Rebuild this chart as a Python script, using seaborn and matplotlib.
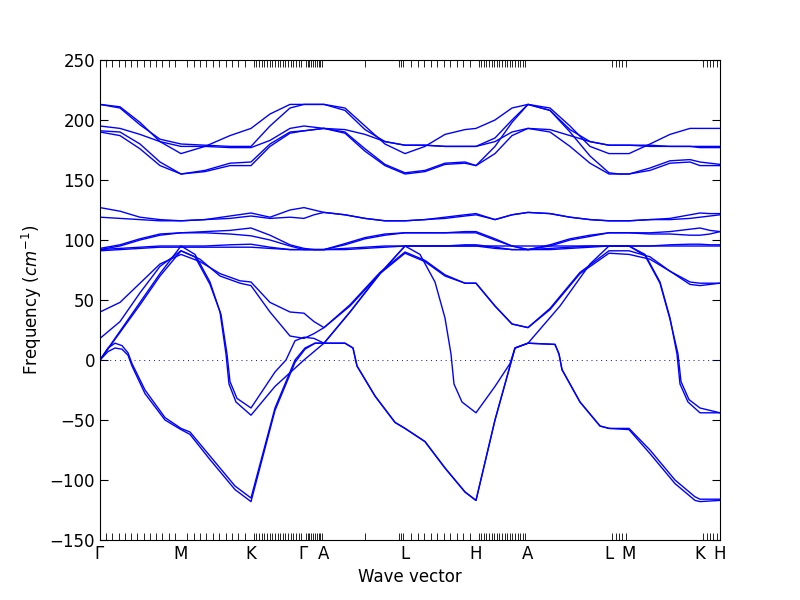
"""Phonon band structure along Γ-M-K-Γ-A-L-H-A|L-M|K-H."""
import matplotlib
matplotlib.use("Agg")
import matplotlib.pyplot as plt
import seaborn as sns
import numpy as np
import pandas as pd

# high-symmetry points (path distance) and labels
sym_pos = [0, 81, 151, 204, 224, 305, 376, 428, 509, 529, 600, 620]
sym_lab = [r"$\Gamma$", "M", "K", r"$\Gamma$", "A", "L", "H", "A", "L", "M", "K", "H"]

# common q grid for the optical bands
q = [0, 20, 40, 60, 81, 105, 130, 151, 170, 190, 204, 214, 224, 245, 265, 285, 305, 325,
     345, 365, 376, 395, 412, 428, 450, 470, 490, 509, 519, 529, 550, 570, 590, 600, 610, 620]

# upper optical group
top1 = [213, 211, 198, 182, 172, 178, 187, 193, 205, 213, 213, 213, 213, 210, 195, 180, 172, 178,
        188, 192, 193, 200, 210, 213, 210, 195, 178, 172, 172, 172, 180, 188, 193, 193, 193, 193]
top2 = [213, 210, 196, 184, 180, 179, 178, 178, 195, 210, 213, 213, 213, 208, 192, 182, 179, 179,
        178, 178, 178, 185, 200, 213, 208, 192, 182, 179, 179, 179, 179, 178, 178, 178, 178, 178]
top3 = [195, 193, 188, 182, 178, 178, 177, 177, 183, 193, 195, 194, 193, 192, 188, 182, 179, 179,
        178, 178, 178, 182, 190, 193, 192, 187, 182, 179, 179, 179, 178, 178, 178, 177, 177, 177]
top4 = [191, 190, 180, 165, 155, 158, 164, 165, 180, 190, 191, 192, 193, 190, 176, 163, 156, 158,
        164, 165, 162, 178, 198, 213, 208, 190, 170, 156, 155, 155, 160, 166, 167, 165, 164, 163]
top5 = [190, 187, 176, 162, 155, 157, 162, 162, 178, 189, 191, 192, 193, 189, 174, 162, 155, 157,
        163, 164, 162, 172, 187, 193, 190, 178, 164, 155, 155, 155, 158, 164, 165, 162, 162, 162]

# middle optical group
mid1 = [127, 124, 119, 117, 116, 117, 120, 122.5, 119, 125, 127, 125, 123, 121, 118, 116, 116, 117,
        119, 121, 122, 117, 121, 123, 122, 119, 117, 116, 116, 116, 117, 118, 121, 122.5, 122, 122]
mid2 = [119, 118, 117, 116, 116, 117, 118, 120, 118, 119, 118, 121, 123, 121, 118, 116, 116, 117,
        118, 120, 121, 117, 121, 123, 122, 119, 117, 116, 116, 116, 117, 117, 118, 119, 120, 121]
mid3 = [93, 96, 101, 105, 106, 107, 108, 110, 104, 96, 93, 92, 92, 97, 102, 105, 106, 106,
        106, 107, 107, 101, 95, 92, 96, 101, 104, 106, 106, 106, 106, 107, 109, 110, 108, 107]
mid4 = [92, 95, 100, 104, 106, 106, 105, 103.5, 100, 95, 92, 92, 92, 96, 101, 104, 106, 106,
        106, 106, 106, 100, 95, 92, 95, 100, 103, 106, 106, 106, 105, 105, 104, 104, 105, 107]
mid5 = [92, 93, 94, 95, 95, 95, 96, 96.5, 94, 92, 92, 92, 92, 93, 94, 95, 95, 95,
        95, 96, 96, 94, 92, 92, 93, 94, 95, 95, 95, 95, 95, 96, 96.5, 96.5, 96, 96]
mid6 = [91, 92, 93, 94, 94, 94, 94, 94, 93, 92, 92, 92, 92, 92, 93, 94, 95, 95,
        95, 95, 95, 93, 92, 92, 92, 93, 94, 95, 95, 95, 95, 95, 95, 95, 95, 95]

# acoustic / soft bands, each with its own q knots
q_s1 = [0, 8, 15, 22, 28, 32, 45, 65, 81, 90, 110, 135, 151, 175, 195, 205, 215, 245, 253, 257, 275,
        295, 305, 325, 345, 365, 376, 395, 410, 415, 428, 455, 459, 462, 480, 500, 509, 529, 550, 575,
        595, 600, 620]
f_s1 = [0, 10, 14, 12, 6, -3, -25, -48, -57, -60, -80, -105, -115, -40, 0, 10, 14, 14, 10, -5, -30,
        -52, -57, -68, -90, -110, -117, -50, -5, 10, 14, 13, 5, -8, -35, -55, -57, -57, -75, -100,
        -114, -116, -116]
f_s1b = [0, 7, 10, 9, 4, -5, -28, -50, -58, -62, -83, -108, -118, -42, -2, 9, 14, 14, 10, -5, -30,
         -52, -57, -68, -90, -110, -117, -50, -5, 10, 14, 13, 5, -8, -35, -55, -57, -58, -78, -103,
         -117, -118, -117]

q_s2 = [0, 20, 40, 60, 81, 95, 110, 120, 126, 129, 136, 151, 175, 204, 224, 250, 280, 305, 320, 335,
        345, 351, 354, 362, 376, 395, 410, 415, 428, 460, 490, 509, 529, 545, 560, 570, 577, 580, 588,
        600, 620]
f_s2 = [0, 24, 48, 72, 95, 88, 65, 40, 5, -20, -35, -46, -22, 0, 14, 40, 72, 95, 88, 65, 35, 5, -20,
        -35, -44, -22, -3, 10, 14, 45, 80, 95, 95, 88, 65, 35, 5, -20, -35, -44, -44]
q_s2b = [0, 20, 40, 60, 81, 95, 110, 121, 127, 130, 137, 151, 175, 186, 195, 204, 214, 224, 250, 280,
         305, 529, 545, 560, 570, 578, 581, 589, 600, 620]
f_s2b = [0, 23, 46, 70, 91, 86, 63, 38, 5, -18, -32, -40, -10, 0, 16, 19, 18, 14, 40, 72, 95, 95, 87,
         64, 34, 5, -18, -33, -40, -44]

q_s3 = [0, 20, 40, 60, 81, 100, 120, 140, 151, 170, 190, 204, 214, 224, 250, 280, 305, 325, 345, 365,
        376, 395, 412, 428, 450, 480, 509, 529, 550, 570, 590, 600, 620]
f_s3 = [40, 48, 64, 80, 88, 82, 72, 66, 65, 48, 40, 39, 32, 27, 45, 72, 89, 82, 70, 64, 64, 45, 30,
        27, 42, 72, 89, 88, 84, 74, 65, 64, 64]
f_s3b = [18, 32, 56, 78, 91, 84, 70, 64, 62, 40, 20, 18, 22, 27, 46, 73, 90, 83, 71, 64, 64, 45, 30,
         27, 43, 73, 91, 91, 86, 74, 63, 62, 64]

# q points of the calculation (minor ticks)
seg_ticks = [13, 11, 20, 10, 2, 11, 20, 0, 5, 0, 5]

bands = [(q, b) for b in (top1, top2, top3, top4, top5, mid1, mid2, mid3, mid4, mid5, mid6)]
bands += [(q_s1, f_s1), (q_s1, f_s1b), (q_s2, f_s2), (q_s2b, f_s2b), (q_s3, f_s3), (q_s3, f_s3b)]

sns.set_style("ticks")
plt.rcParams.update({"xtick.direction": "in", "ytick.direction": "in",
                     "xtick.top": True, "ytick.right": True, "font.size": 12,
                     "text.color": "black", "axes.labelcolor": "black",
                     "xtick.color": "black", "ytick.color": "black"})

fig, ax = plt.subplots(figsize=(8, 6), dpi=100)
for i, (x, y) in enumerate(bands):
    df = pd.DataFrame({"q": x, "f": y})
    sns.lineplot(data=df, x="q", y="f", ax=ax, color="blue", lw=1, sort=False, estimator=None)
ax.axhline(0, color="blue", ls=(0, (1, 4)), lw=0.7)

ax.set_xlim(sym_pos[0], sym_pos[-1])
ax.set_ylim(-150, 250)
ax.set_xticks(sym_pos)
ax.set_xticklabels(sym_lab)
minor = []
for a, b, n in zip(sym_pos[:-1], sym_pos[1:], seg_ticks):
    if n:
        minor += list(np.linspace(a, b, n + 1)[1:-1]) if b - a > 20 else list(np.linspace(a, b, n + 2))
    if n == 2:
        minor += list(np.linspace(b - 6, b, 4))
ax.set_xticks(minor, minor=True)
ax.tick_params(axis="x", which="major", length=0, labelsize=12)
ax.tick_params(axis="x", which="minor", length=5, width=0.6)
ax.tick_params(axis="y", length=6, labelsize=12)
for s in ax.spines.values():
    s.set_color("black")
ax.set_xlabel("Wave vector")
ax.set_ylabel(r"Frequency ($cm^{-1}$)")
fig.subplots_adjust(left=0.125, right=0.9, bottom=0.1, top=0.9)
fig.savefig("out.png")
